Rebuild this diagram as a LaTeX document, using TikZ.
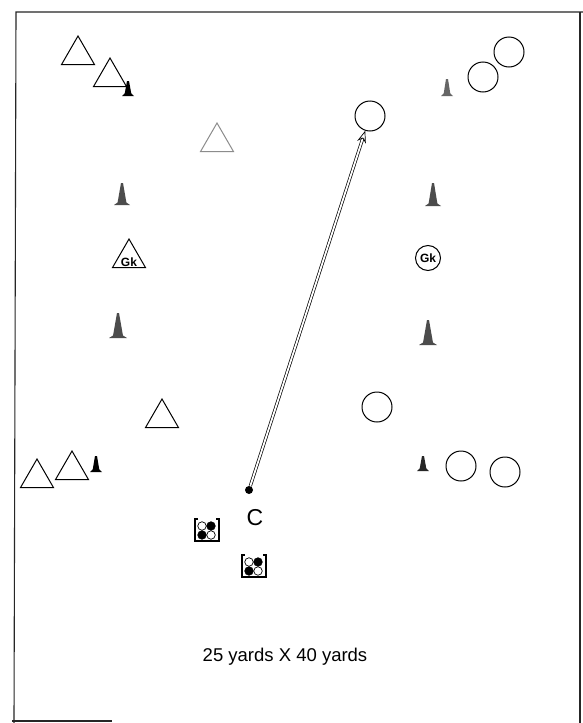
\documentclass[tikz,border=0pt]{standalone}
\usepackage{fontspec}
\setmainfont{Liberation Sans}
\usetikzlibrary{shapes.geometric,arrows.meta}
\tikzset{
  player/.style={draw=black, line width=1pt, fill=white, regular polygon, regular polygon sides=3, minimum size=38pt, inner sep=0pt},
  opp/.style={draw=black, line width=1pt, fill=white, circle, minimum size=30pt, inner sep=0pt},
  frame/.style={line width=1.1pt, black!85},
  ball/.style={circle, draw=black, line width=0.7pt, minimum size=8.5pt, inner sep=0pt},
  bag/.style={line width=1.6pt, black},
  gktext/.style={font=\bfseries\fontsize{12}{12}\selectfont},
}
\newcommand\mycone[5]{% x, ybase, halfwidth, height, colour
  \fill[#5] (#1-#3,#2) -- (#1-#3*0.55,#2-2.5) -- (#1-1,#2-#4) -- (#1+1,#2-#4) -- (#1+#3*0.55,#2-2.5) -- (#1+#3,#2) -- cycle;}
\newcommand\mybag[2]{% centre x, y
  \draw[bag] (#1-9,#2-11) -- (#1-12,#2-11) -- (#1-12,#2+11) -- (#1+12,#2+11) -- (#1+12,#2-11) -- (#1+9,#2-11);
  \node[ball, fill=white] at (#1-5,#2-4) {};
  \node[ball, fill=black] at (#1+4,#2-4) {};
  \node[ball, fill=black] at (#1-5,#2+5) {};
  \node[ball, fill=white] at (#1+4,#2+5) {};}
\begin{document}
\begin{tikzpicture}[x=1pt,y=-1pt]
\useasboundingbox (0,0) rectangle (583,723);
\fill[white] (0,0) rectangle (583,723);
% frame
\draw[frame] (14,723) -- (16,12) -- (583,12);
\draw[frame] (580,12) -- (580,723);
\draw[frame] (12,721) -- (112,721);

% left team (triangles)
\node[player] (t1) at (78,55) {};
\node[player] (t2) at (110,77) {};
\node[player, draw=black!45] (t3) at (217,142) {};
\node[player, minimum size=38pt] (gk1) at (129,258) {};
\node[gktext] (gk1t) at (129,262) {Gk};
\node[player] (t4) at (162,418) {};
\node[player] (t5) at (37,478) {};
\node[player] (t6) at (72,470) {};

% right team (circles)
\node[opp] (c1) at (509,52) {};
\node[opp] (c2) at (483,77) {};
\node[opp] (c3) at (370,116) {};
\node[circle, draw=black, line width=1pt, minimum size=25pt, inner sep=0pt, gktext] (gk2) at (428,258) {Gk};
\node[opp] (c4) at (377,407) {};
\node[opp] (c5) at (461,466) {};
\node[opp] (c6) at (505,472) {};

% cones
\mycone{128}{96}{6}{15}{black}
\mycone{447}{96}{6}{17}{black!60}
\mycone{122}{205}{8}{22}{black!70}
\mycone{433}{206}{8}{23}{black!70}
\mycone{118}{338}{9}{25}{black!70}
\mycone{428}{345}{9}{25}{black!70}
\mycone{96}{472}{6}{16}{black}
\mycone{423}{471}{6}{15}{black!85}

% coach and pass
\node[circle, fill=black, minimum size=8pt, inner sep=0pt] (dot) at (249,490) {};
\node[font=\fontsize{23}{23}\selectfont] (coach) at (255,518) {C};
\draw[line width=0.7pt, double=white, double distance=1.8pt, -{Stealth[open, length=12pt, width=9pt]}] (dot) -- (c3);

% ball bags
\mybag{207}{530}
\mybag{254}{566}

% caption
\node[font=\fontsize{18.5}{18.5}\selectfont] (cap) at (285,657) {25 yards X 40 yards};
\end{tikzpicture}
\end{document}
